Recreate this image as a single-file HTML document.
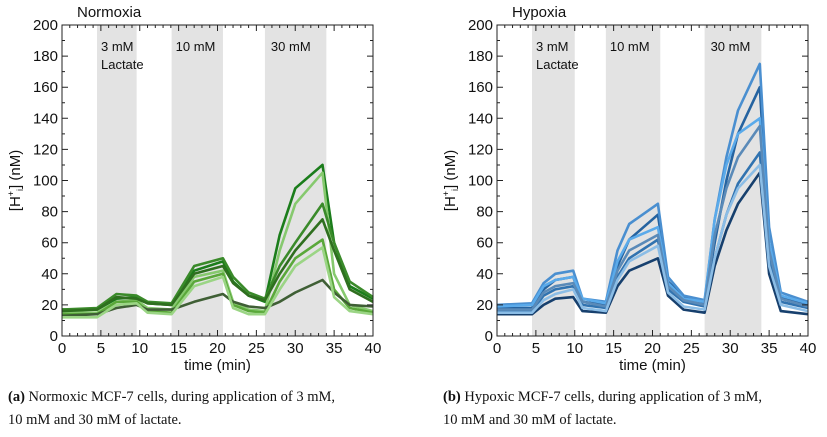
<!DOCTYPE html>
<html><head><meta charset="utf-8"><style>
body{margin:0;background:#fff;width:827px;height:437px;overflow:hidden;font-family:"Liberation Sans",sans-serif}
.cap{position:absolute;font-family:"Liberation Serif",serif;font-size:14.5px;color:#111;line-height:23px}
</style></head><body>
<svg id="svg" width="827" height="437" style="position:absolute;left:0;top:0" font-family="Liberation Sans, sans-serif"></svg>
<div class="cap" style="left:8px;top:386px"><b>(a)</b> Normoxic MCF-7 cells, during application of 3 mM,<br>10 mM and 30 mM of lactate.</div>
<div class="cap" style="left:443px;top:386px"><b>(b)</b> Hypoxic MCF-7 cells, during application of 3 mM,<br>10 mM and 30 mM of lactate.</div>
<script>
const xTicks=[0,5,10,15,20,25,30,35,40];
const yTicks=[0,20,40,60,80,100,120,140,160,180,200];
const normBands=[[4.5,9.6],[14.1,20.7],[26.1,34.0]];
const hypBands=[[4.5,10.0],[14.0,21.0],[26.7,34.0]];
const bandLabels=["3 mM","10 mM","30 mM"];
const normTimes=[0,4.5,7,9.6,11,14.1,17,20.7,22,24,26.1,28,30,33.5,35,37,40];
const normA=[17,17,24,25,21,20,42,48,35,26,22,65,95,110,60,32,24];
const normB=[15,15,22,23,18,17,38,42,22,17,16,55,85,105,40,20,16];
const normC=[17,18,27,26,22,21,45,50,38,28,24,45,60,85,60,35,25];
const normD=[16,17,25,24,21,20,40,45,34,26,23,40,55,75,55,30,22];
const normE=[14,14,22,22,16,15,35,40,20,16,15,35,50,62,30,18,15];
const normF=[13,14,18,20,17,17,22,27,22,19,18,22,28,36,28,20,19];
const normG=[12,12,20,21,15,14,32,38,18,14,14,30,45,57,25,16,14];
const hypTimes=[0,4.5,6,7.5,9.8,11,14,15.5,17,20.7,22,24,26.7,28,29.5,31,33.8,35,36.5,40];
const hypA=[18,18,30,36,38,22,20,45,62,78,35,25,21,60,100,130,160,60,25,20];
const hypB=[20,21,34,40,42,24,22,55,72,85,38,26,23,75,115,145,175,70,28,22];
const hypC=[16,16,26,30,32,20,18,38,50,62,30,22,19,50,78,98,118,50,22,18];
const hypD=[14,14,20,24,25,16,15,32,42,50,26,17,15,45,68,85,105,40,16,14];
const hypE=[19,20,32,36,38,24,21,48,62,70,34,24,22,75,110,130,140,60,26,21];
const hypF=[17,17,28,32,34,22,19,42,55,65,32,23,20,65,95,115,135,55,24,19];
const hypG=[15,15,23,27,30,18,16,36,48,58,28,19,17,50,78,95,110,45,20,16];
const normSeries=[normA,normB,normC,normD,normE,normF,normG];
const hypSeries=[hypA,hypB,hypC,hypD,hypE,hypF,hypG];
const normColors=["#1b7d1b","#86c96e","#3a8a2a","#2f6f1f","#5aa83a","#3f5f35","#9bd585"];
const hypColors=["#2563a0","#4a8fd0","#3173b0","#17406e","#5aaaea","#5a8ab8","#8bbde6"];
const NS="http://www.w3.org/2000/svg";
const svg=document.getElementById('svg');
function mk(tag,attrs,parent){const e=document.createElementNS(NS,tag);for(const k in attrs)e.setAttribute(k,attrs[k]);(parent||svg).appendChild(e);return e;}
function chart(x0,name,title,bands,times,series,colors){
  const x1=x0+311,y0=25,y1=336;
  const sx=t=>x0+t*(x1-x0)/40, sy=v=>y1-v*(y1-y0)/200;
  const g=mk('g',{});
  
  
  bands.forEach((b,i)=>{
    const r=mk('rect',{x:sx(b[0]),y:y0,width:sx(b[1])-sx(b[0]),height:y1-y0,fill:'#e3e3e3'},g);
    
    
    const t=mk('text',{x:sx(b[0])+(i==2?6:4),y:51,'font-size':13,fill:'#111'},g);
    t.textContent=bandLabels[i];
    
    
  });
  const lt=mk('text',{x:sx(bands[0][0])+4,y:69,'font-size':13,fill:'#111'},g);
  lt.textContent='Lactate';
  
  
  series.forEach((s,i)=>{
    const pts=s.map((v,j)=>sx(times[j]).toFixed(1)+','+sy(v).toFixed(1)).join(' ');
    const p=mk('polyline',{points:pts,fill:'none',stroke:colors[i],'stroke-width':2.6,'stroke-linejoin':'round'},g);
    
    
  });
  const fr=mk('rect',{x:x0,y:y0,width:x1-x0,height:y1-y0,fill:'none',stroke:'#222','stroke-width':1},g);
  
  
  let d='';
  for(let t=0;t<=40;t++){const x=sx(t),L=t%5==0?6:3;d+=`M${x},${y1}v${-L}M${x},${y0}v${L}`;}
  for(let v=0;v<=200;v+=10){const y=sy(v),L=v%20==0?6:3;d+=`M${x0},${y}h${L}M${x1},${y}h${-L}`;}
  const tk=mk('path',{d:d,stroke:'#222','stroke-width':1,fill:'none'},g);
  
  
  xTicks.forEach(t=>{const e=mk('text',{x:sx(t),y:y1+17,'font-size':15,'text-anchor':'middle',fill:'#111'},g);e.textContent=t;
    
    });
  yTicks.forEach(v=>{const e=mk('text',{x:x0-4,y:sy(v)+5,'font-size':15,'text-anchor':'end',fill:'#111'},g);e.textContent=v;
    
    });
  const xt=mk('text',{x:(x0+x1)/2,y:y1+34,'font-size':15,'text-anchor':'middle',fill:'#111'},g);xt.textContent='time (min)';
  
  
  const yt=mk('text',{transform:`translate(${x0-42},${(y0+y1)/2}) rotate(-90)`,'font-size':15,'text-anchor':'middle',fill:'#111'},g);
  yt.innerHTML='[H<tspan dy="-6" font-size="9">+</tspan><tspan dy="9" font-size="9">i</tspan><tspan dy="-3">] (nM)</tspan>';
  
  
  const tt=mk('text',{x:x0+15,y:17,'font-size':15,fill:'#111'},g);tt.textContent=title;
  
  
}
chart(62,'normoxia-chart','Normoxia',normBands,normTimes,normSeries,normColors);
chart(497,'hypoxia-chart','Hypoxia',hypBands,hypTimes,hypSeries,hypColors);
</script>
</body></html>
